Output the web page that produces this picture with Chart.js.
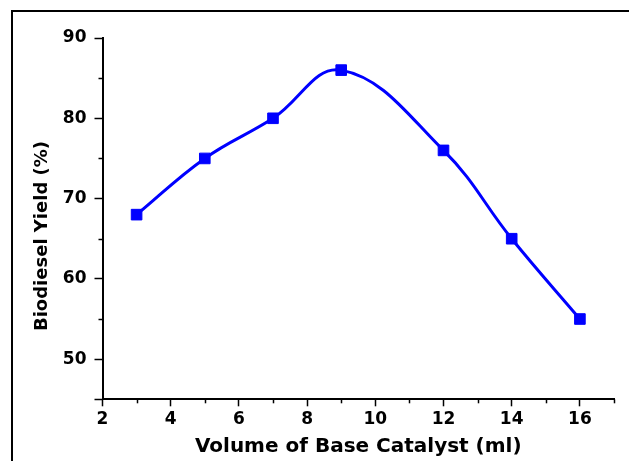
<!DOCTYPE html>
<html>
<head>
<meta charset="utf-8">
<style>
  html, body { margin: 0; padding: 0; background: #ffffff; }
  #c { display: block; }
</style>
<script src="https://cdn.jsdelivr.net/npm/chart.js@4/dist/chart.umd.min.js"></script>
</head>
<body>
<canvas id="c" width="629" height="461"></canvas>
<script>
// ---- data ----
const catalystVolume = [3, 5, 7, 9, 12, 14, 16];
const biodieselYield = [68, 75, 80, 86, 76, 65, 55];
const xTickLabels = [2, 4, 6, 8, 10, 12, 14, 16];
const yTickLabels = [50, 60, 70, 80, 90];
const xTitle = 'Volume of Base Catalyst (ml)';
const yTitle = 'Biodiesel Yield (%)';

const FONT = '"DejaVu Sans", "Liberation Sans", Arial, sans-serif';

const points = catalystVolume.map((x, i) => ({ x: x, y: biodieselYield[i] }));

const decorPlugin = {
  id: 'decor',
  beforeDraw(chart) {
    const ctx = chart.ctx;
    ctx.save();
    ctx.fillStyle = '#ffffff';
    ctx.fillRect(0, 0, chart.width, chart.height);
    ctx.strokeStyle = '#000000';
    ctx.lineWidth = 2;
    ctx.beginPath();
    ctx.moveTo(12, chart.height);
    ctx.lineTo(12, 11);
    ctx.lineTo(chart.width, 11);
    ctx.stroke();
    ctx.restore();
  },
  afterDraw(chart) {
    const ctx = chart.ctx;
    const xs = chart.scales.x, ys = chart.scales.y;
    ctx.save();
    ctx.strokeStyle = '#000000';
    ctx.lineWidth = 1.5;
    // minor ticks on x (odd values)
    for (let v = 3; v <= 17; v += 2) {
      const px = Math.round(xs.getPixelForValue(v)) + 0.5;
      ctx.beginPath();
      ctx.moveTo(px, ys.bottom);
      ctx.lineTo(px, ys.bottom + 4);
      ctx.stroke();
    }
    // minor ticks on y (55, 65, 75, 85)
    for (let v = 55; v <= 85; v += 10) {
      const py = Math.round(ys.getPixelForValue(v)) + 0.5;
      ctx.beginPath();
      ctx.moveTo(xs.left, py);
      ctx.lineTo(xs.left - 4, py);
      ctx.stroke();
    }
    // axis titles
    ctx.fillStyle = '#000000';
    ctx.font = 'bold 20px ' + FONT;
    ctx.textAlign = 'center';
    ctx.textBaseline = 'alphabetic';
    ctx.fillText(xTitle, (xs.left + xs.right) / 2, 452);
    ctx.translate(42, 236);
    ctx.rotate(-Math.PI / 2);
    ctx.font = 'bold 18px ' + FONT;
    ctx.textBaseline = 'middle';
    ctx.fillText(yTitle, 0, 0);
    ctx.restore();
  }
};

new Chart(document.getElementById('c'), {
  type: 'line',
  data: {
    datasets: [{
      data: points,
      borderColor: '#0000ff',
      backgroundColor: '#0000ff',
      borderWidth: 3,
      tension: 0.4,
      pointStyle: 'rect',
      pointRadius: 7.5,
      pointBorderWidth: 1,
      pointBackgroundColor: '#0000ff',
      pointBorderColor: '#0000ff',
      fill: false
    }]
  },
  options: {
    responsive: false,
    animation: false,
    devicePixelRatio: 1,
    layout: { padding: { top: 38, right: 15, left: 0, bottom: 0 } },
    plugins: { legend: { display: false }, tooltip: { enabled: false } },
    scales: {
      x: {
        type: 'linear',
        min: 2,
        max: 17,
        afterFit(scale) { scale.height = 61.7; },
        ticks: {
          stepSize: 1,
          autoSkip: false,
          maxRotation: 0,
          padding: 3,
          color: '#000000',
          font: { family: FONT, size: 17, weight: 'bold' },
          callback: (v) => xTickLabels.includes(v) ? String(v) : ''
        },
        grid: {
          drawOnChartArea: false,
          tickLength: 7,
          tickWidth: 1.5,
          tickColor: (c) => (c.tick && xTickLabels.includes(c.tick.value)) ? '#000000' : 'rgba(0,0,0,0)'
        },
        border: { display: true, color: '#000000', width: 2 }
      },
      y: {
        type: 'linear',
        min: 45,
        max: 90,
        afterFit(scale) { scale.width = 102.5; },
        ticks: {
          stepSize: 10,
          padding: 8,
          color: '#000000',
          font: { family: FONT, size: 17, weight: 'bold' },
          callback: (v) => yTickLabels.includes(v) ? String(v) : ''
        },
        grid: {
          drawOnChartArea: false,
          tickLength: 8,
          tickWidth: 1.5,
          tickColor: '#000000'
        },
        border: { display: true, color: '#000000', width: 2 }
      }
    }
  },
  plugins: [decorPlugin]
});
</script>
</body>
</html>
